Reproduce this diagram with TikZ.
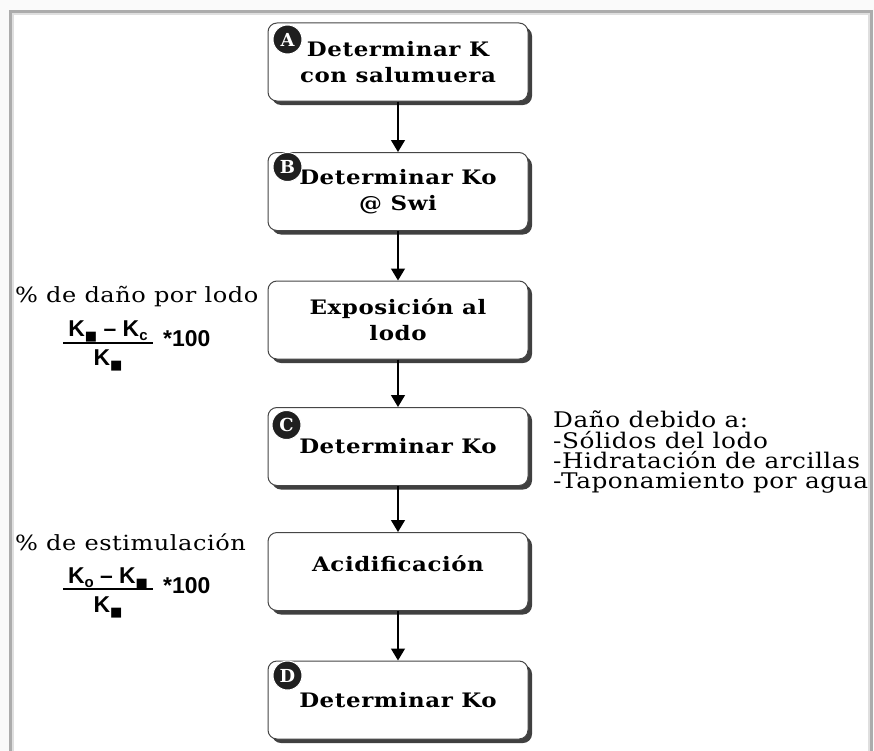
\documentclass[tikz,border=0pt]{standalone}
\usepackage{fontspec}
\usetikzlibrary{arrows.meta,shadows}
\newfontfamily\boxfont[FakeStretch=1.15,LetterSpace=3]{DejaVu Serif}
\newfontfamily\notefont[FakeStretch=1.15,LetterSpace=2.5]{DejaVu Serif}
\newfontfamily\badgefont{DejaVu Serif}
\newfontfamily\formfont{Liberation Sans}
\newfontfamily\symbfont{DejaVu Sans}
% K with a lowered index
\newcommand\Kx[1]{K\raisebox{-0.35ex}{\fontsize{15}{15}\selectfont #1}}
\newcommand\blk{{\symbfont\fontsize{13}{13}\selectfont ■}}
\newcommand\skipto[1]{\fontsize{20}{#1}\selectfont}
\begin{document}
\begin{tikzpicture}[x=1bp,y=-1bp,
  stepbox/.style={draw=gray!55!black, line width=1bp, rounded corners=9bp,
    fill=white, minimum width=260bp, minimum height=78bp, inner sep=0pt,
    align=center, font=\boxfont\bfseries\fontsize{20}{26}\selectfont,
    drop shadow={shadow xshift=4bp, shadow yshift=-4bp, fill=black!75, opacity=1}},
  badge/.style={circle, fill=black!88, draw=white, line width=1bp,
    minimum size=29bp, inner sep=0pt, text=white,
    font=\badgefont\bfseries\fontsize{18}{18}\selectfont},
  flow/.style={line width=1.4bp, -{Triangle[width=14bp,length=12bp]}},
  note/.style={inner sep=0pt, align=left,
    font=\notefont\fontsize{21}{20.4}\selectfont},
  formula/.style={inner sep=0pt, font=\formfont\bfseries\fontsize{23}{23}\selectfont},
  fracrule/.style={line width=1.8bp}]
\useasboundingbox (0,0) rectangle (874,751);
\fill[white!98!black] (0,0) rectangle (874,751);
% panel frame
\begin{scope}
\clip (0,0) rectangle (874,751);
\fill[white] (10,12) rectangle (871,800);
\draw[gray!65, line width=3bp] (10,11.5) rectangle (871.5,800);
\draw[gray!25, line width=2bp] (13,14) rectangle (869,800);
\end{scope}

% process steps
\node[stepbox] (A) at (398,62) {\skipto{29}Determinar K\\con salumuera};
\node[stepbox] (B) at (398,191.5) {\skipto{24}Determinar Ko\\@ Swi};
\node[stepbox] (E) at (398,320) {\skipto{22}Exposición al\\lodo};
\node[stepbox] (C) at (398,446.5) {Determinar Ko};
\node[stepbox] (F) at (398,571.5) {\raisebox{0pt}[0pt][0pt]{Acidificación}};
\node[stepbox] (D) at (398,700) {Determinar Ko};

% step badges
\node[badge] (bA) at ([xshift=20bp,yshift=-17bp]A.north west) {A};
\node[badge] (bB) at ([xshift=20bp,yshift=-15bp]B.north west) {B};
\node[badge] (bC) at ([xshift=19bp,yshift=-18bp]C.north west) {C};
\node[badge] (bD) at ([xshift=20bp,yshift=-15bp]D.north west) {D};

% connectors
\draw[flow] (A.south) -- (B.north);
\draw[flow] (B.south) -- (E.north);
\draw[flow] (E.south) -- (C.north);
\draw[flow] (C.south) -- (F.north);
\draw[flow] (F.south) -- (D.north);

% mud damage percentage
\node[note, anchor=base west] (dmg) at (15,302) {\% de daño por lodo};
\node[formula, anchor=base] (dmgnum) at (108,336) {\Kx{\blk} – \Kx{c}};
\coordinate (dmgl) at (63,343);
\coordinate (dmgr) at (153,343);
\draw[fracrule] (dmgl) -- (dmgr);
\node[formula, anchor=base] (dmgden) at (108,365) {\Kx{\blk}};
\node[formula, anchor=base west] (dmgfac) at (163,346) {*100};

% stimulation percentage
\node[note, anchor=base west] (stim) at (15,550) {\% de estimulación};
\node[formula, anchor=base] (stimnum) at (108,583) {\Kx{o} – \Kx{\blk}};
\coordinate (stiml) at (63,589);
\coordinate (stimr) at (153,589);
\draw[fracrule] (stiml) -- (stimr);
\node[formula, anchor=base] (stimden) at (108,612) {\Kx{\blk}};
\node[formula, anchor=base west] (stimfac) at (163,593) {*100};

% damage causes
\node[note, anchor=north west, font=\notefont\fontsize{21.6}{20.4}\selectfont] (why) at (553,411)
  {Daño debido a:\\-Sólidos del lodo\\-Hidratación de arcillas\\-Taponamiento por agua};
\end{tikzpicture}
\end{document}
